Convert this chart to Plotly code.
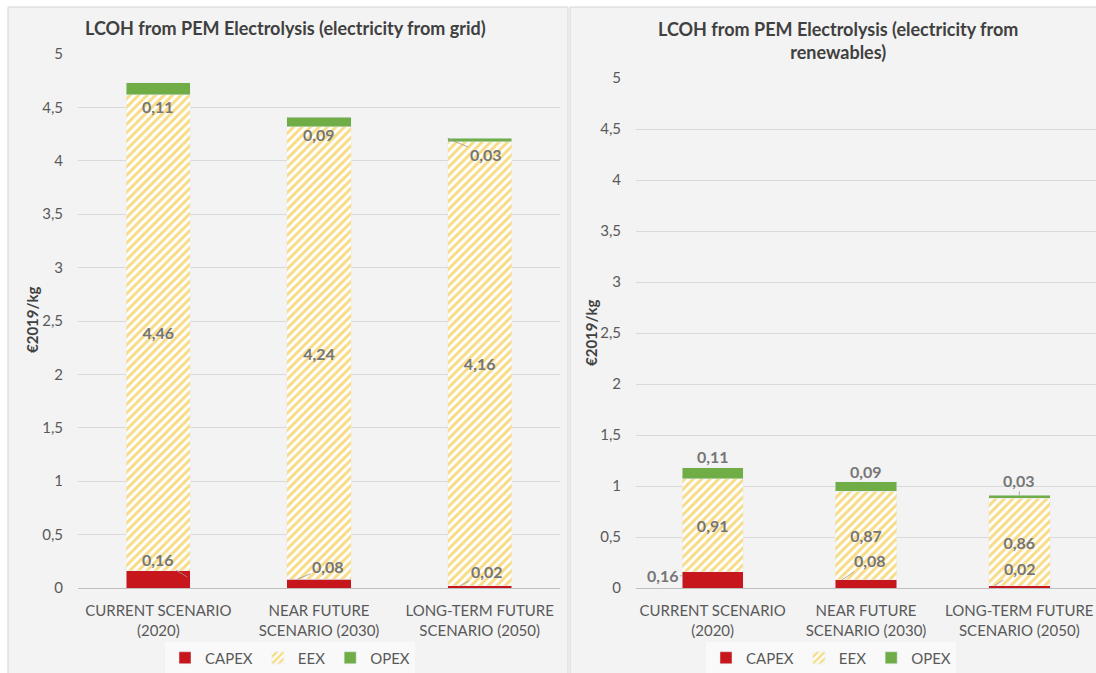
import plotly.graph_objects as go

# categories
scenarios = ["CURRENT SCENARIO<br>(2020)", "NEAR FUTURE<br>SCENARIO (2030)", "LONG-TERM FUTURE<br>SCENARIO (2050)"]

# grid electricity
grid_capex = [0.16, 0.08, 0.02]
grid_eex = [4.46, 4.24, 4.16]
grid_opex = [0.11, 0.09, 0.03]

# renewable electricity
ren_capex = [0.16, 0.08, 0.02]
ren_eex = [0.91, 0.87, 0.86]
ren_opex = [0.11, 0.09, 0.03]

W, H = 1096, 673
RED = "#C8161D"
YEL = "#F0B80C"
GRN = "#70AD47"
GREY = "#595959"
LBL = "#767676"
FONT = "Lato"
BW = 0.40


def fmt(v):
    return f"{v:.2f}".replace(".", ",")


def px_x(p):
    return p / W


def px_y(p):
    return 1 - p / H


fig = go.Figure()


def add_panel(capex, eex, opex, xref, yref, legend):
    fig.add_bar(x=scenarios, y=capex, name="CAPEX", marker_color=RED,
                xaxis=xref, yaxis=yref, legend=legend, width=BW)
    fig.add_bar(x=scenarios, y=eex, name="EEX", xaxis=xref, yaxis=yref, legend=legend, width=BW,
                marker=dict(color="white", pattern=dict(shape="/", fgcolor=YEL, bgcolor="white",
                                                        size=6, solidity=0.5)),
                text=[fmt(v) for v in eex], textposition="inside", insidetextanchor="middle",
                textfont=dict(color=LBL, size=16, family=FONT, weight="bold"), textangle=0)
    fig.add_bar(x=scenarios, y=opex, name="OPEX", marker_color=GRN,
                xaxis=xref, yaxis=yref, legend=legend, width=BW)


add_panel(grid_capex, grid_eex, grid_opex, "x", "y", "legend")
add_panel(ren_capex, ren_eex, ren_opex, "x2", "y2", "legend2")

lab_font = dict(color=LBL, size=16, family=FONT, weight="bold")
lead = dict(arrowhead=0, arrowwidth=0.8, arrowcolor="#9a9a9a", standoff=0, startstandoff=0)


def label(x, y, ref, text, xshift=0, yshift=0, ax=None, ay=None):
    a = dict(x=x, y=y, xref="x" + ref, yref="y" + ref, text=text, font=lab_font,
             xshift=xshift, yshift=yshift, yanchor="middle", xanchor="center")
    if ax is None:
        a["showarrow"] = False
    else:
        a.update(showarrow=True, ax=ax, ay=ay, **lead)
    return a


anns = []
s0, s1, s2 = scenarios

# left panel (grid)
anns += [
    label(s0, grid_capex[0] + grid_eex[0], "", fmt(grid_opex[0]), yshift=-12),
    label(s1, grid_capex[1] + grid_eex[1], "", fmt(grid_opex[1]), yshift=-8),
    label(s2, grid_capex[2] + grid_eex[2] + grid_opex[2], "", fmt(grid_opex[2]), xshift=-32, ax=38, ay=16),
    label(s0, grid_capex[0], "", fmt(grid_capex[0]), xshift=29, yshift=-6, ax=-29, ay=-17),
    label(s1, grid_capex[1], "", fmt(grid_capex[1]), xshift=-22, ax=31, ay=-13),
    label(s2, grid_capex[2], "", fmt(grid_capex[2]), xshift=-20, ax=27, ay=-14),
]
# right panel (renewables)
anns += [
    label(s0, sum(v[0] for v in (ren_capex, ren_eex, ren_opex)), "2", fmt(ren_opex[0]), yshift=11),
    label(s1, sum(v[1] for v in (ren_capex, ren_eex, ren_opex)), "2", fmt(ren_opex[1]), yshift=10),
    label(s2, sum(v[2] for v in (ren_capex, ren_eex, ren_opex)), "2", fmt(ren_opex[2]), ax=0, ay=-15),
    label(s0, ren_capex[0] * 0.75, "2", fmt(ren_capex[0]), xshift=-30, ax=-20, ay=0),
    label(s1, ren_capex[1], "2", fmt(ren_capex[1]), xshift=-24, ax=28, ay=-19),
    label(s2, ren_capex[2], "2", fmt(ren_capex[2]), xshift=-25, ax=26, ay=-17),
]

title_font = dict(size=18, color="#404040", family=FONT)
axis_title_font = dict(size=15, color="#404040", family=FONT)
centre = dict(xref="paper", yref="paper", showarrow=False, xanchor="center", yanchor="middle")
anns += [
    dict(x=px_x(285), y=px_y(28), text="<b>LCOH from PEM Electrolysis (electricity from grid)</b>",
         font=title_font, **centre),
    dict(x=px_x(838), y=px_y(40), text="<b>LCOH from PEM Electrolysis (electricity from<br>renewables)</b>",
         font=title_font, **centre),
    dict(x=px_x(32), y=px_y(320), textangle=-90, text="<b>€2019/kg</b>", font=axis_title_font, **centre),
    dict(x=px_x(591), y=px_y(333), textangle=-90, text="<b>€2019/kg</b>", font=axis_title_font, **centre),
]

shapes = [
    dict(type="rect", xref="paper", yref="paper", x0=px_x(8), x1=px_x(568), y0=-0.02, y1=px_y(7),
         fillcolor="#f3f3f3", line=dict(color="#d4d4d4", width=1), layer="below"),
    dict(type="rect", xref="paper", yref="paper", x0=px_x(570), x1=1.02, y0=-0.02, y1=px_y(7),
         fillcolor="#f3f3f3", line=dict(color="#d4d4d4", width=1), layer="below"),
]

xaxis_common = dict(showgrid=False, tickfont=dict(size=15, color=GREY, family=FONT),
                    showline=False, ticks="", ticklabelstandoff=12)
yaxis_common = dict(range=[0, 5], dtick=0.5, showgrid=True, gridcolor="#d9d9d9", gridwidth=1,
                    zeroline=True, zerolinecolor="#bfbfbf", zerolinewidth=1,
                    tickfont=dict(size=15, color=GREY, family=FONT), ticks="", ticklabelstandoff=14)

leg_common = dict(orientation="h", xanchor="center", yanchor="middle", bgcolor="#f9f9f9",
                  font=dict(size=15, color=GREY, family=FONT), traceorder="normal",
                  itemwidth=30, tracegroupgap=0)

fig.update_layout(
    width=W, height=H, margin=dict(l=0, r=0, t=0, b=0, autoexpand=False),
    paper_bgcolor="white", plot_bgcolor="rgba(0,0,0,0)",
    barmode="stack", separators=", ",
    font=dict(family=FONT, color=GREY),
    xaxis=dict(domain=[px_x(78), px_x(560)], anchor="y", **xaxis_common),
    yaxis=dict(domain=[px_y(588), px_y(54)], anchor="x", **yaxis_common),
    xaxis2=dict(domain=[px_x(636), 1.0], anchor="y2", **xaxis_common),
    yaxis2=dict(domain=[px_y(588), px_y(78)], anchor="x2", **yaxis_common),
    legend=dict(x=px_x(290), y=px_y(658), **leg_common),
    legend2=dict(x=px_x(831), y=px_y(658), **leg_common),
    annotations=anns, shapes=shapes,
)

fig.write_html("out.html", config={"displayModeBar": False},
               post_script="document.body.style.margin='0';")
